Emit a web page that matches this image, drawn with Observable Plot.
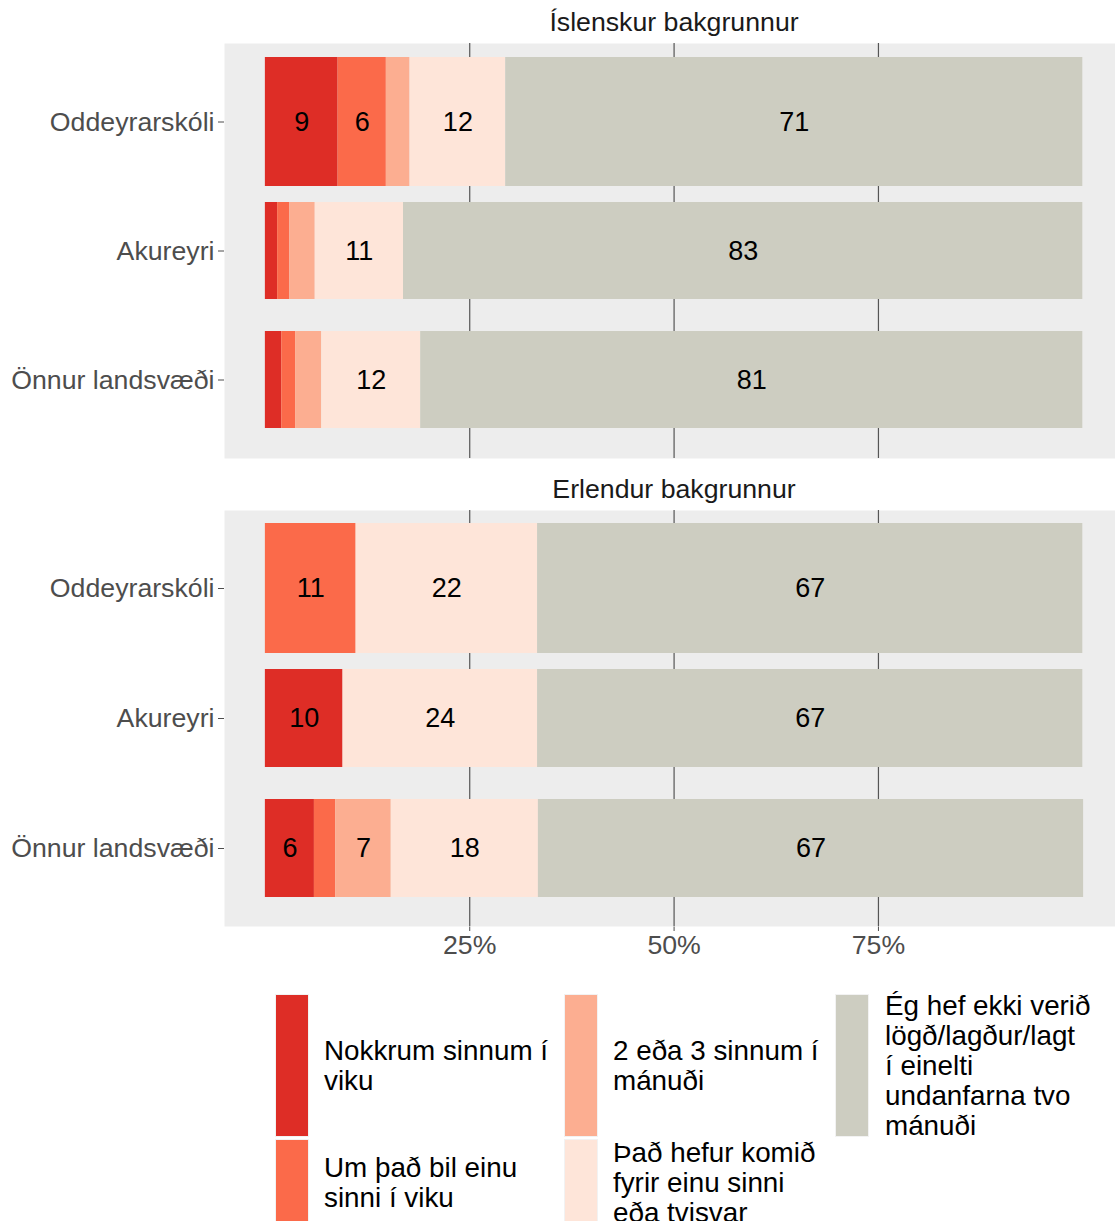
<!DOCTYPE html>
<html>
<head>
<meta charset="utf-8">
<script src="https://cdn.jsdelivr.net/npm/d3@7"></script>
<script src="https://cdn.jsdelivr.net/npm/@observablehq/plot@0.6"></script>
<style>
  html, body { margin: 0; padding: 0; background: #fff; overflow: hidden; }
  #root { position: relative; width: 1115px; height: 1221px; font-family: 'Liberation Sans', Arial, sans-serif; }
  .panel { position: absolute; left: 0; }
  .key { position: absolute; box-sizing: border-box; border: 1px solid #F2F2F2; }
  .ltext { position: absolute; display: flex; align-items: center; font-size: 27.8px; line-height: 30px; color: #000; white-space: nowrap; }
</style>
</head>
<body>
<div id="root"></div>
<script>
// ---- data ----
const groups = ["Íslenskur bakgrunnur", "Erlendur bakgrunnur"];
const schools = ["Oddeyrarskóli", "Akureyri", "Önnur landsvæði"];
const responses = [
  "Nokkrum sinnum í viku",
  "Um það bil einu sinni í viku",
  "2 eða 3 sinnum í mánuði",
  "Það hefur komið fyrir einu sinni eða tvisvar",
  "Ég hef ekki verið lögð/lagður/lagt í einelti undanfarna tvo mánuði"
];
const legendLines = [
  ["Nokkrum sinnum í", "viku"],
  ["Um það bil einu", "sinni í viku"],
  ["2 eða 3 sinnum í", "mánuði"],
  ["Það hefur komið", "fyrir einu sinni", "eða tvisvar"],
  ["Ég hef ekki verið", "lögð/lagður/lagt", "í einelti", "undanfarna tvo", "mánuði"]
];
const colors = ["#DE2D26", "#FB6A4A", "#FCAE91", "#FEE5D9", "#CDCDC1"];
const gridBreaks = [25, 50, 75];

// percentages per response (same order as responses)
const islOdd = [8.9, 5.9, 2.9, 11.7, 70.6];
const islAku = [1.5, 1.5, 3.1, 10.8, 83.1];
const islOnn = [2.0, 1.7, 3.2, 12.1, 81.0];
const erlOdd = [0, 11.1, 0, 22.2, 66.7];
const erlAku = [9.5, 0, 0, 23.8, 66.7];
const erlOnn = [6.0, 2.6, 6.8, 18.0, 66.7];

function rows(vals, school) {
  let c = 0;
  return vals.map((v, i) => {
    const r = {school, response: responses[i], value: v, x1: c, x2: c + v};
    c += v;
    return r;
  }).filter(r => r.value > 0);
}

const islData = [...rows(islOdd, schools[0]), ...rows(islAku, schools[1]), ...rows(islOnn, schools[2])];
const erlData = [...rows(erlOdd, schools[0]), ...rows(erlAku, schools[1]), ...rows(erlOnn, schools[2])];

function panel(title, data, showX, height, marginBottom) {
  return Plot.plot({
    width: 1115, height, marginTop: 43, marginBottom, marginLeft: 224, marginRight: 0,
    style: {fontFamily: "'Liberation Sans', Arial, sans-serif", fontSize: "26.7px", color: "#4D4D4D", background: "transparent", overflow: "visible"},
    x: {domain: [-5, 104], axis: showX ? "bottom" : null, ticks: gridBreaks, tickFormat: d => d + "%", tickSize: 5, tickPadding: 4, label: null},
    y: {domain: schools, paddingInner: 0, paddingOuter: 0.1, tickSize: 6, tickPadding: 4, label: null},
    color: {domain: responses, range: colors},
    marks: [
      Plot.frame({fill: "#EDEDED"}),
      Plot.ruleX(gridBreaks, {stroke: "#555", strokeWidth: 1.2}),
      Plot.barX(data.filter(d => d.school === schools[0]), {x1: "x1", x2: "x2", y: "school", fill: "response"}),
      Plot.barX(data.filter(d => d.school !== schools[0]), {x1: "x1", x2: "x2", y: "school", fill: "response", insetTop: 16, insetBottom: 16}),
      Plot.text(data.filter(d => d.value >= 5), {x: d => (d.x1 + d.x2) / 2, y: "school", text: d => String(Math.round(d.value)), fill: "black", fontSize: 27}),
      Plot.text([title], {text: d => d, frameAnchor: "top", lineAnchor: "middle", dy: -21, dx: 4, fill: "#1A1A1A", fontSize: 26.7})
    ]
  });
}

const root = document.getElementById("root");
const p1 = panel(groups[0], islData, false, 458, 0);
p1.classList.add("panel"); p1.style.top = "0px";
root.appendChild(p1);
const p2 = panel(groups[1], erlData, true, 509, 50);
p2.classList.add("panel"); p2.style.top = "467px";
root.appendChild(p2);

// ---- legend (2 rows, filled by column) ----
const colKeyX = [275, 564, 835];
const colTextX = [324, 613, 885];
const rowY = [994, 1139];
const rowH = [143, 88];
responses.forEach((r, i) => {
  const col = Math.floor(i / 2), row = i % 2;
  const key = document.createElement("div");
  key.className = "key";
  key.style.left = colKeyX[col] + "px";
  key.style.top = rowY[row] + "px";
  key.style.width = "34px";
  key.style.height = rowH[row] + "px";
  key.style.background = colors[i];
  root.appendChild(key);
  const t = document.createElement("div");
  t.className = "ltext";
  t.style.left = colTextX[col] + "px";
  t.style.top = rowY[row] + "px";
  t.style.height = rowH[row] + "px";
  t.innerHTML = "<div>" + legendLines[i].join("<br>") + "</div>";
  root.appendChild(t);
});
</script>
</body>
</html>
